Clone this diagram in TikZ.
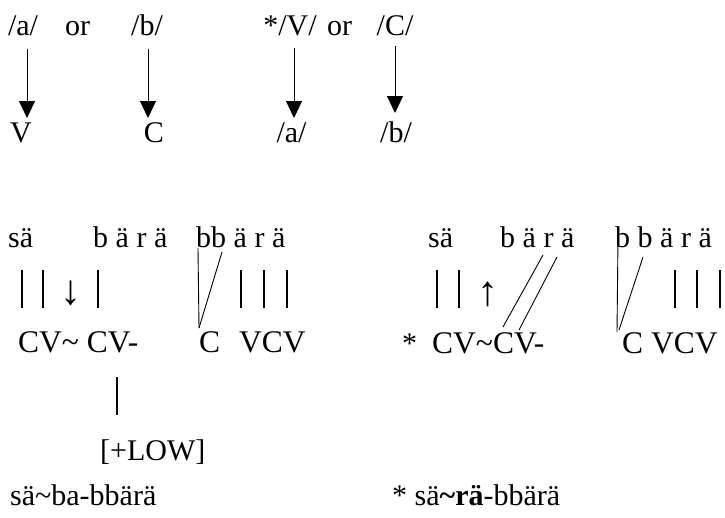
\documentclass[tikz,border=0pt]{standalone}
\usepackage{fontspec}
\setmainfont{Liberation Serif}
\usetikzlibrary{arrows.meta}
\begin{document}
\begin{tikzpicture}[x=1pt,y=-1pt,
  txt/.style={inner sep=0pt,font=\fontsize{30}{36}\selectfont},
  tw/.style={txt,anchor=base west},
  tc/.style={txt,anchor=base},
  cvtxt/.style={tw,font=\fontsize{31.5}{36}\selectfont},
  glyph/.style={inner sep=0pt,anchor=center,font=\fontsize{42}{48}\selectfont},
  arr/.style={line width=1pt,-{Triangle[width=16pt,length=17pt]}},
  bar/.style={line width=2.6pt},
  assoc/.style={line width=0.9pt}]
\useasboundingbox (0,0) rectangle (725,517);
% ---- top schema ----
\node[tc] (ta)  at (23,35)  {/a/};
\node[tc] (tor1) at (77.5,35) {or};
\node[tc] (tb)  at (147,35) {/b/};
\node[tc] (tV)  at (290,35) {*/V/};
\node[tc] (tor2) at (339.5,35) {or};
\node[tc] (tC)  at (395,35) {/C/};
\node[tc] (bV)  at (21,142)  {V};
\node[tc] (bC)  at (154,142) {C};
\node[tc] (ba)  at (291.5,142) {/a/};
\node[tc] (bb)  at (396,142) {/b/};
\draw[arr] ([shift={(4,14)}]ta.base) -- ([shift={(6,-24)}]bV.base);
\draw[arr] ([shift={(1,14)}]tb.base) -- ([shift={(-6,-24)}]bC.base);
\draw[arr] ([shift={(4,13)}]tV.base) -- ([shift={(2.5,-24)}]ba.base);
\draw[arr] ([shift={(0,11)}]tC.base) -- ([shift={(-1,-29)}]bb.base);
% ---- left derivation ----
\node[tw] (lsa)  at (8,247)   {sä};
\node[tw] (lbara) at (93,247) {b ä r ä};
\node[tw] (lbb)  at (196,247) {bb ä r ä};
\draw[bar] (22,270) -- (22,308);
\draw[bar] (43,270) -- (43,308);
\node[glyph] (ldown) at (71,293) {↓};
\draw[bar] (98,270) -- (98,308);
\draw[bar] (241,270) -- (241,308);
\draw[bar] (264,270) -- (264,308);
\draw[bar] (287,270) -- (287,308);
\node[cvtxt] (lcv) at (18,352)  {CV\textasciitilde{} CV-};
\node[cvtxt] (lC)  at (199,352) {C\hspace{0.6em}VCV};
\draw[assoc] ([shift={(2,1)}]lbb.base west) -- ([shift={(0,-24)}]lC.base west);
\draw[assoc] ([shift={(26,5)}]lbb.base west) -- ([shift={(0,-24)}]lC.base west);
\node[tw] (low) at (100,460) {[+LOW]};
\draw[bar] ([shift={(99,25)}]lcv.base west) -- ([shift={(17,-45)}]low.base west);
\node[tw] (lres) at (10,505) {sä\textasciitilde ba-bbärä};
% ---- right derivation ----
\node[tw] (rsa)  at (428,247) {sä};
\node[tw] (rbara) at (500,247) {b ä r ä};
\node[tw] (rbb)  at (615,247) {b b ä r ä};
\draw[bar] (437,270) -- (437,308);
\draw[bar] (459,270) -- (459,308);
\node[glyph] (rup) at (488,294) {↑};
\draw[bar] (675,270) -- (675,308);
\draw[bar] (697,270) -- (697,308);
\draw[bar] (720,270) -- (720,308);
\node[tw] (rstar) at (402,353) {*};
\node[cvtxt] (rcv) at (432,353) {CV\textasciitilde CV-};
\node[cvtxt] (rC)  at (622,353) {C VCV};
\draw[assoc] ([shift={(43,8)}]rbara.base west) -- ([shift={(71,-26)}]rcv.base west);
\draw[assoc] ([shift={(57,10)}]rbara.base west) -- ([shift={(87,-23)}]rcv.base west);
\draw[assoc] ([shift={(3,-9)}]rbb.base west) -- ([shift={(-5,-21)}]rC.base west);
\draw[assoc] ([shift={(28,10)}]rbb.base west) -- ([shift={(-3,-23)}]rC.base west);
\node[tw] (rres) at (392,505) {* sä\textbf{\textasciitilde rä}-bbärä};
\end{tikzpicture}
\end{document}
